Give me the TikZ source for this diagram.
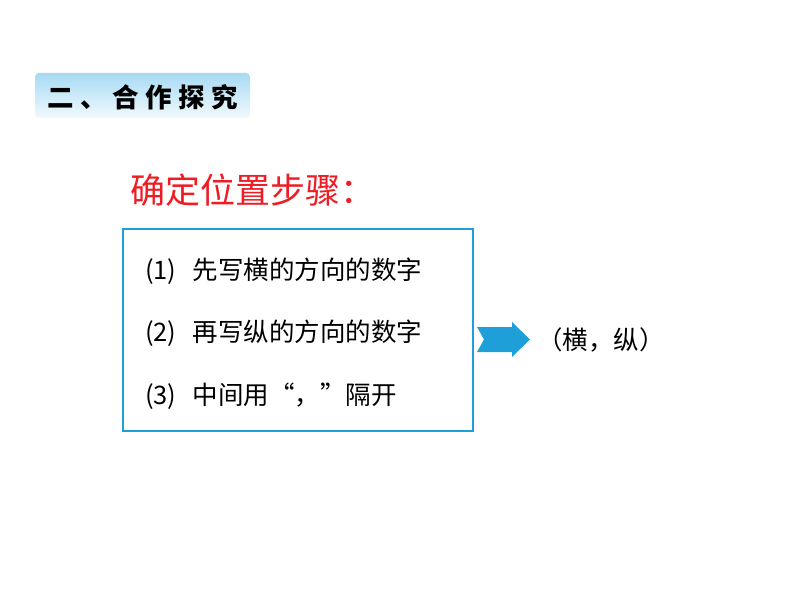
\documentclass[tikz,border=0pt]{standalone}
\usepackage{fontspec}
\setmainfont{Noto Sans CJK SC}
\newfontfamily\cjk{Noto Sans CJK SC}
\newfontfamily\cjkwide[LetterSpace=24]{Noto Sans CJK SC}
\begin{document}
\begin{tikzpicture}[x=1pt,y=-1pt,
  item/.style={anchor=west,inner sep=0,font=\fontsize{25.5}{25.5}\selectfont},
]
\useasboundingbox (0,0) rectangle (794,596);
\definecolor{hblue}{HTML}{A6DAF3}
\definecolor{bblue}{HTML}{1E9FD8}
\definecolor{ared}{HTML}{EE1C25}
\shade[top color=hblue,bottom color=hblue!15,rounded corners=4pt] (35,73) rectangle (250,118);
\node[inner sep=0,anchor=west,font=\cjkwide\fontsize{26.5}{26.5}\selectfont\bfseries] (hdr) at (47,97) {二、合作探究};
\node[inner sep=0,anchor=west,text=ared,font=\fontsize{35}{35}\selectfont] (title) at (130,190) {确定位置步骤：};
\node[draw=bblue,line width=1.6pt,minimum width=350,minimum height=202,anchor=north west] (box) at (122,228) {};
\node[item] (s1) at (145,271) {(1)\hspace{16pt}先写横的方向的数字};
\node[item] (s2) at (145,333) {(2)\hspace{16pt}再写纵的方向的数字};
\node[item] (s3) at (145,396) {(3)\hspace{16pt}中间用“，”隔开};
\fill[bblue] (477,327) -- (512,327) -- (512,322) -- (530,339.5) -- (512,357) -- (512,352) -- (477,352) -- (484,339.5) -- cycle;
\coordinate (arr) at (530,339.5);
\node[item,anchor=west] (res) at (537,340) {（横，纵）};
\end{tikzpicture}
\end{document}
